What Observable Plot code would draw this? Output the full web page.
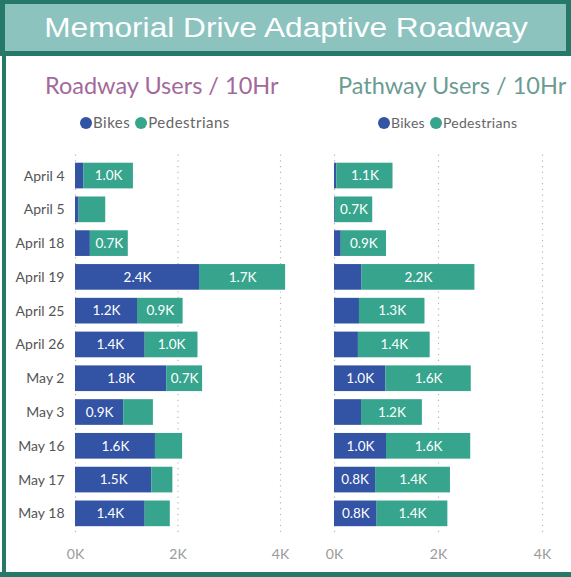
<!DOCTYPE html>
<html>
<head>
<meta charset="utf-8">
<script src="https://cdn.jsdelivr.net/npm/d3@7"></script>
<script src="https://cdn.jsdelivr.net/npm/@observablehq/plot@0.6"></script>
<style>
  html, body { margin: 0; padding: 0; background: #fff; }
  #root { position: relative; width: 571px; height: 577px; overflow: hidden; font-family: Lato, "DejaVu Sans", sans-serif; }
  .abs { position: absolute; }
  #titlebox { left: 0; top: 0; width: 571px; height: 56px; box-sizing: border-box; border: 5px solid #267868; border-top-width: 4px; background: #8cc3bf; }
  #title { left: 0; top: 0; width: 571px; height: 56px; line-height: 56px; text-align: center; color: #fff; font-family: "Liberation Sans", Arial, sans-serif; font-size: 28px; }
  #title span { display: inline-block; transform: scaleX(1.13); }
  #leftline { left: 2px; top: 55px; width: 4px; height: 522px; background: #267868; }
  #bottomline { left: 0; top: 572px; width: 571px; height: 5px; background: #267868; }
  .sub { top: 74px; font-size: 23.5px; line-height: 1; white-space: nowrap; }
  .legend { top: 114px; font-size: 15px; line-height: 16px; color: #666; white-space: nowrap; letter-spacing: 0.5px; }
  .legend .dot { display: inline-block; width: 12px; height: 12px; border-radius: 50%; vertical-align: -1px; margin-right: 1px; }
  .chart { top: 140px; }
</style>
</head>
<body>
<div id="root">
  <div id="titlebox" class="abs"></div>
  <div id="title" class="abs"><span>Memorial Drive Adaptive Roadway</span></div>
  <div id="leftline" class="abs"></div>
  <div id="bottomline" class="abs"></div>
  <div id="sub1" class="abs sub" style="left:45px;color:#a3699b;">Roadway Users / 10Hr</div>
  <div id="sub2" class="abs sub" style="left:338px;color:#6a9c93;">Pathway Users / 10Hr</div>
  <div id="leg1" class="abs legend" style="left:80px;"></div>
  <div id="leg2" class="abs legend" style="left:378px;font-size:14px;letter-spacing:0.3px;top:115px;"></div>
  <div id="chart1" class="abs chart" style="left:0px;"></div>
  <div id="chart2" class="abs chart" style="left:300px;"></div>
</div>
<script>
const dates = ["April 4","April 5","April 18","April 19","April 25","April 26","May 2","May 3","May 16","May 17","May 18"];
const seriesNames = ["Bikes","Pedestrians"];
const seriesColors = ["#3353a4","#37a58d"];
const xTicks = [0, 2000, 4000];

const roadBikes = [160, 70, 290, 2420, 1210, 1360, 1780, 940, 1560, 1490, 1360];
const roadPeds  = [970, 520, 740, 1680, 890, 1030, 700, 580, 530, 410, 490];
const pathBikes = [45, 15, 130, 530, 480, 460, 990, 520, 1000, 790, 820];
const pathPeds  = [1080, 720, 870, 2170, 1260, 1380, 1640, 1170, 1620, 1440, 1360];

function rowsFrom(bikes, peds) {
  const rows = [];
  dates.forEach((d, i) => rows.push({date: d, series: "Bikes", value: bikes[i]}));
  dates.forEach((d, i) => rows.push({date: d, series: "Pedestrians", value: peds[i]}));
  return rows;
}

function legend(el) {
  el.innerHTML = seriesNames.map((s, i) =>
    `<span class="dot" style="background:${seriesColors[i]}"></span>${s}`).join('<span style="display:inline-block;width:5px"></span>');
}
legend(document.getElementById("leg1"));
legend(document.getElementById("leg2"));

const fmtK = v => (v / 1000).toFixed(1) + "K";

function chart(rows, showY, width, marginLeft, marginRight) {
  return Plot.plot({
    width, height: 430,
    marginLeft, marginRight, marginTop: 14.6, marginBottom: 35.7,
    style: {fontFamily: "Lato, sans-serif", background: "transparent", overflow: "visible"},
    x: {domain: [0, 4000]},
    y: {domain: dates, padding: 0.24, round: false},
    color: {domain: seriesNames, range: seriesColors},
    marks: [
      Plot.gridX(xTicks, {stroke: "#b8b8b8", strokeOpacity: 1, strokeWidth: 1.2, strokeDasharray: "1.2,4.5"}),
      Plot.axisX({ticks: xTicks, tickFormat: d => d / 1000 + "K", tickSize: 0, tickPadding: 14, fill: "#9a9a9a", fontSize: 14, label: null}),
      showY ? Plot.axisY({tickSize: 0, tickPadding: 11, fill: "#555", fontSize: 14, label: null}) : Plot.axisY({ticks: [], label: null, tickSize: 0}),
      Plot.barX(rows, Plot.stackX({x: "value", y: "date", fill: "series"})),
      Plot.text(rows, Plot.stackX({x: "value", y: "date", text: d => d.value >= 600 ? fmtK(d.value) : "", fill: "white", fontSize: 13.5}))
    ]
  });
}

document.getElementById("chart1").append(chart(rowsFrom(roadBikes, roadPeds), true, 300, 75, 20));
document.getElementById("chart2").append(chart(rowsFrom(pathBikes, pathPeds), false, 271, 34, 29));
</script>
</body>
</html>
